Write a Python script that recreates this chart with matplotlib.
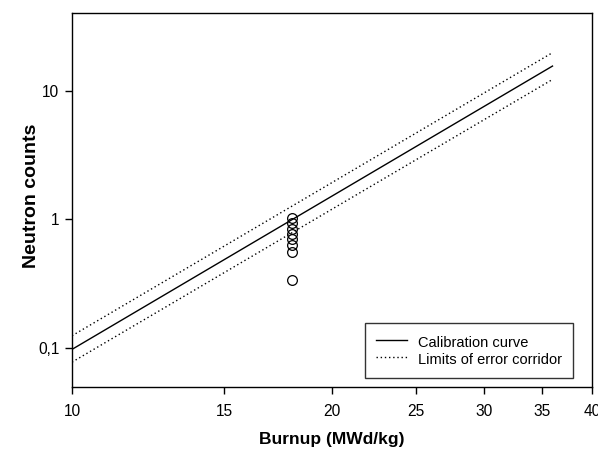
import numpy as np
import matplotlib
matplotlib.use('Agg')
import matplotlib.pyplot as plt
from matplotlib.ticker import FixedLocator, FuncFormatter, NullLocator

plt.rcParams['font.family'] = ['Liberation Sans', 'DejaVu Sans']

# calibration curve (straight line on log-log) and error corridor limits
calib_x = [10, 36]
calib_y = [0.098, 15.5]
upper_y = [0.125, 19.7]
lower_y = [0.078, 12.2]

# measured points
meas_x = [18, 18, 18, 18, 18, 18, 18, 18]
meas_y = [1.03, 0.93, 0.85, 0.77, 0.71, 0.63, 0.56, 0.34]

x_ticks = [10, 15, 20, 25, 30, 35, 40]
y_ticks = [0.1, 1, 10]


def comma_fmt(v, pos):
    s = f'{v:g}'
    return s.replace('.', ',')


fig = plt.figure(figsize=(5.98, 4.49), dpi=100)
ax = fig.add_axes([0.1204, 0.138, 0.8696, 0.833])

ax.plot(calib_x, calib_y, color='black', lw=1.0, label='Calibration curve')
ax.plot(calib_x, upper_y, color='black', lw=1.0, ls=(0, (1, 2)),
        label='Limits of error corridor')
ax.plot(calib_x, lower_y, color='black', lw=1.0, ls=(0, (1, 2)))
ax.plot(meas_x, meas_y, ls='none', marker='o', ms=7, mfc='none',
        mec='black', mew=0.9)

ax.set_xscale('log')
ax.set_yscale('log')
ax.set_xlim(10, 40)
ax.set_ylim(0.05, 40)

ax.xaxis.set_major_locator(FixedLocator(x_ticks))
ax.xaxis.set_minor_locator(NullLocator())
ax.xaxis.set_major_formatter(FuncFormatter(lambda v, p: f'{v:g}'))
ax.yaxis.set_major_locator(FixedLocator(y_ticks))
ax.yaxis.set_minor_locator(NullLocator())
ax.yaxis.set_major_formatter(FuncFormatter(comma_fmt))

ax.tick_params(direction='out', length=5, width=1, labelsize=11.2)
ax.tick_params(axis='x', pad=7)
ax.tick_params(axis='y', pad=4)
for sp in ax.spines.values():
    sp.set_linewidth(1.0)

ax.set_xlabel('Burnup (MWd/kg)', fontsize=12.5, fontweight='bold')
ax.xaxis.set_label_coords(0.5, -0.12)
ax.set_ylabel('Neutron counts', fontsize=14, fontweight='bold')
ax.yaxis.set_label_coords(-0.062, 0.51)

leg = ax.legend(loc='lower right', bbox_to_anchor=(0.9635, 0.024), fontsize=10.5,
                frameon=True, fancybox=False, edgecolor='black',
                borderaxespad=0, handlelength=2.12, handletextpad=0.75,
                handleheight=1.35, borderpad=0.75, labelspacing=0.05)
leg.get_frame().set_linewidth(1.0)

fig.savefig('out.png', dpi=100, facecolor='white')
